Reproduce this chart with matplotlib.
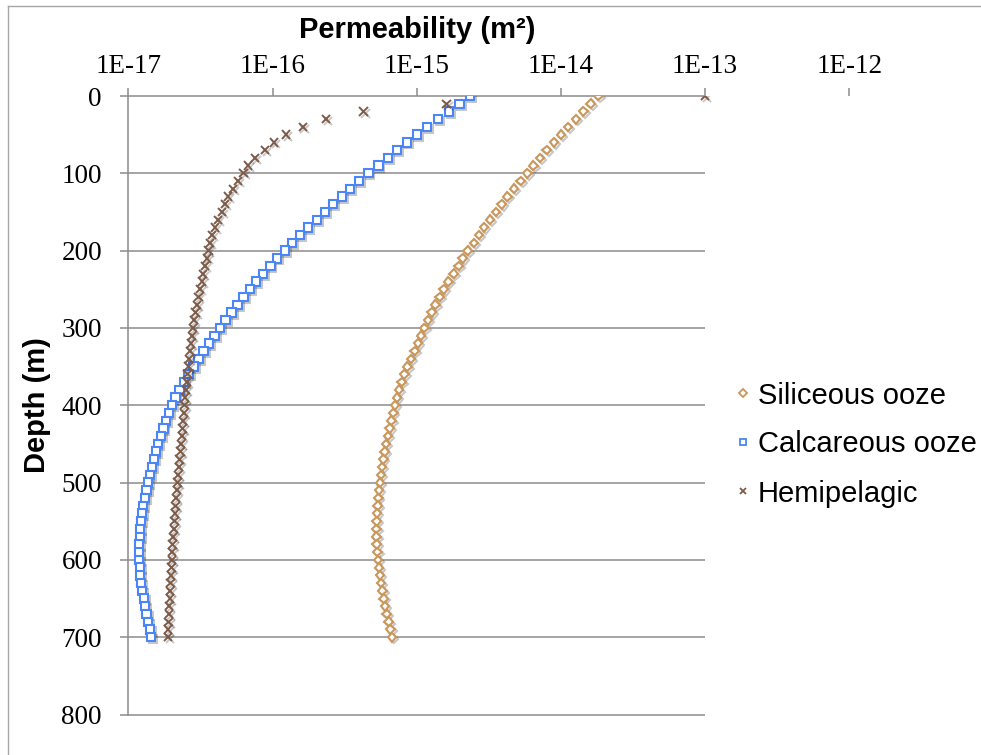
import matplotlib
matplotlib.use('Agg')
import matplotlib.pyplot as plt
import matplotlib.patheffects as pe
from matplotlib.lines import Line2D

# Depth below seafloor (m), sampled every 10 m
depth = list(range(0, 710, 10))

# Permeability (m^2) for each sediment type
siliceous = [1.82e-14, 1.61e-14, 1.43e-14, 1.27e-14, 1.12e-14, 1.00e-14, 8.95e-15, 7.96e-15, 7.16e-15, 6.44e-15,
             5.85e-15, 5.26e-15, 4.73e-15, 4.25e-15, 3.88e-15, 3.55e-15, 3.22e-15, 2.93e-15, 2.70e-15, 2.49e-15,
             2.26e-15, 2.08e-15, 1.95e-15, 1.80e-15, 1.66e-15, 1.54e-15, 1.44e-15, 1.35e-15, 1.27e-15, 1.20e-15,
             1.13e-15, 1.07e-15, 1.02e-15, 9.66e-16, 9.12e-16, 8.61e-16, 8.22e-16, 7.85e-16, 7.55e-16, 7.30e-16,
             7.08e-16, 6.87e-16, 6.67e-16, 6.49e-16, 6.31e-16, 6.14e-16, 6.00e-16, 5.86e-16, 5.75e-16, 5.65e-16,
             5.55e-16, 5.47e-16, 5.41e-16, 5.36e-16, 5.31e-16, 5.27e-16, 5.26e-16, 5.26e-16, 5.28e-16, 5.33e-16,
             5.40e-16, 5.47e-16, 5.56e-16, 5.66e-16, 5.78e-16, 5.89e-16, 6.03e-16, 6.19e-16, 6.38e-16, 6.56e-16,
             6.76e-16]
calcareous = [2.34e-15, 1.98e-15, 1.67e-15, 1.40e-15, 1.18e-15, 1.00e-15, 8.57e-16, 7.29e-16, 6.31e-16, 5.42e-16,
              4.62e-16, 3.98e-16, 3.44e-16, 3.02e-16, 2.64e-16, 2.31e-16, 2.03e-16, 1.77e-16, 1.55e-16, 1.36e-16,
              1.22e-16, 1.08e-16, 9.66e-17, 8.61e-17, 7.67e-17, 7.00e-17, 6.31e-17, 5.71e-17, 5.19e-17, 4.72e-17,
              4.33e-17, 3.96e-17, 3.63e-17, 3.33e-17, 3.07e-17, 2.83e-17, 2.62e-17, 2.43e-17, 2.26e-17, 2.12e-17,
              2.01e-17, 1.91e-17, 1.83e-17, 1.75e-17, 1.68e-17, 1.61e-17, 1.56e-17, 1.50e-17, 1.46e-17, 1.41e-17,
              1.37e-17, 1.34e-17, 1.30e-17, 1.27e-17, 1.24e-17, 1.22e-17, 1.21e-17, 1.20e-17, 1.19e-17, 1.19e-17,
              1.19e-17, 1.20e-17, 1.21e-17, 1.23e-17, 1.25e-17, 1.28e-17, 1.31e-17, 1.34e-17, 1.37e-17, 1.41e-17,
              1.44e-17]
hemipelagic = [1.0e-13, 1.61e-15, 4.27e-16, 2.35e-16, 1.62e-16, 1.24e-16, 1.02e-16, 8.87e-17, 7.55e-17, 6.76e-17,
               6.31e-17, 5.78e-17, 5.33e-17, 4.93e-17, 4.69e-17, 4.45e-17, 4.21e-17, 3.99e-17, 3.80e-17, 3.69e-17,
               3.59e-17, 3.50e-17, 3.40e-17, 3.31e-17, 3.23e-17, 3.14e-17, 3.06e-17, 2.99e-17, 2.92e-17, 2.87e-17,
               2.82e-17, 2.77e-17, 2.72e-17, 2.68e-17, 2.64e-17, 2.61e-17, 2.57e-17, 2.54e-17, 2.51e-17, 2.48e-17,
               2.45e-17, 2.43e-17, 2.40e-17, 2.38e-17, 2.35e-17, 2.33e-17, 2.30e-17, 2.27e-17, 2.24e-17, 2.21e-17,
               2.19e-17, 2.17e-17, 2.15e-17, 2.13e-17, 2.11e-17, 2.09e-17, 2.07e-17, 2.05e-17, 2.03e-17, 2.02e-17,
               2.00e-17, 1.99e-17, 1.97e-17, 1.96e-17, 1.95e-17, 1.94e-17, 1.92e-17, 1.91e-17, 1.90e-17, 1.89e-17,
               1.88e-17]

x_ticks = [1e-17, 1e-16, 1e-15, 1e-14, 1e-13, 1e-12]
x_labels = ['1E-17', '1E-16', '1E-15', '1E-14', '1E-13', '1E-12']
y_ticks = [0, 100, 200, 300, 400, 500, 600, 700, 800]

W, H = 981, 755
grid_col = '#8c8c8c'

fig = plt.figure(figsize=(W / 100, H / 100), dpi=100)
ax = fig.add_axes([128.3 / W, 1 - 714.5 / H, 721 / W, 618.5 / H])

ax.set_xscale('log')
ax.set_xlim(1e-17, 1e-12)
ax.set_ylim(800, 0)

# horizontal gridlines only run to 1E-13
ax.hlines(y_ticks, 1e-17, 1e-13, colors=grid_col, linewidth=1.1, clip_on=False, zorder=1)

shadow = [pe.SimpleLineShadow(offset=(1.4, -1.4), shadow_color='k', alpha=0.22), pe.Normal()]
ax.plot(siliceous, depth, linestyle='none', marker='D', markersize=4.4, markerfacecolor='white',
        markeredgecolor='#c9975b', markeredgewidth=1.5, label='Siliceous ooze', path_effects=shadow, zorder=3)
ax.plot(calcareous, depth, linestyle='none', marker='s', markersize=6.0, markerfacecolor='white',
        markeredgecolor='#4a86f5', markeredgewidth=1.5, label='Calcareous ooze', path_effects=shadow, zorder=3)
ax.plot(hemipelagic, depth, linestyle='none', marker='x', markersize=6.0,
        markeredgecolor='#7d5b48', markeredgewidth=1.4, label='Hemipelagic', path_effects=shadow, zorder=4)

# axes styling
for side in ['top', 'right', 'bottom']:
    ax.spines[side].set_visible(False)
ax.spines['left'].set_color(grid_col)
ax.spines['left'].set_linewidth(1.1)

ax.xaxis.tick_top()
ax.set_xticks(x_ticks)
ax.set_xticklabels(x_labels)
ax.minorticks_off()
ax.set_yticks(y_ticks)
ax.tick_params(axis='x', which='major', direction='out', length=6, width=1.1, color=grid_col, pad=6,
               labelsize=19.5, top=True, bottom=False)
ax.tick_params(axis='y', direction='out', length=6, width=1.1, color=grid_col, pad=13, labelsize=19.5)
for lab in ax.get_xticklabels() + ax.get_yticklabels():
    lab.set_fontfamily('Liberation Serif')

fig.text(417 / W, 1 - 38 / H, 'Permeability (m²)', ha='center', va='baseline',
         fontsize=21, fontweight='bold', family='Liberation Sans')
fig.text(37 / W, 1 - 405.5 / H, 'Depth (m)', ha='center', va='center', rotation=90,
         fontsize=21, fontweight='bold', family='Liberation Sans')

leg = ax.legend(loc='upper left', bbox_to_anchor=(734.3 / W, 1 - 381.5 / H), bbox_transform=fig.transFigure,
                frameon=False, borderpad=0, borderaxespad=0, handlelength=0.6, handletextpad=0.2,
                labelspacing=0.72, prop={'family': 'Liberation Sans', 'size': 21})
for h in leg.legend_handles:
    h.set_path_effects([])
    h.set_markersize(4.2)
    h.set_markeredgewidth(1.3)

# light outer frame of the chart area
fig.add_artist(Line2D([7.5 / W, 7.5 / W], [0, 1 - 5.5 / H], color='#a6a6a6', linewidth=1.0))
fig.add_artist(Line2D([7.5 / W, 1], [1 - 5.5 / H, 1 - 5.5 / H], color='#a6a6a6', linewidth=1.0))

fig.savefig('out.png', dpi=100)
